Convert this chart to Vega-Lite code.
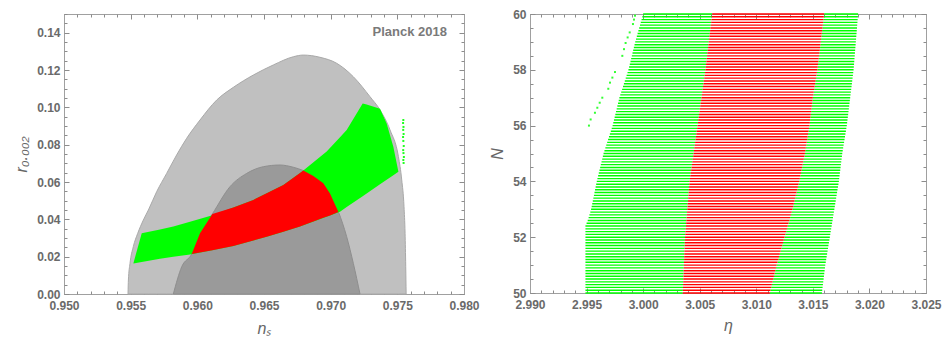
{
  "$schema": "https://vega.github.io/schema/vega-lite/v6.json",
  "background": "white",
  "autosize": {"type": "pad"},
  "padding": {"left": 13, "top": 8, "right": 0, "bottom": 0},
  "spacing": 66,
  "bounds": "flush",
  "config": {
    "view": {"stroke": null},
    "axis": {
      "labelFont": "Liberation Sans", "labelFontSize": 12, "labelFontWeight": "bold", "labelColor": "#6a6a6a",
      "titleFont": "Liberation Sans", "titleFontSize": 16, "titleFontStyle": "italic", "titleFontWeight": "normal", "titleColor": "#666666",
      "domainColor": "#a0a0a0", "tickColor": "#8c8c8c", "grid": false, "zindex": 1, "labelFlush": false, "labelOverlap": false
    }
  },
  "datasets": {
    "lines": [
      {"N":50.0,"gl":2.9949,"rl":3.0035,"rr":3.0112,"gr":3.0158},
      {"N":50.1,"gl":2.9949,"rl":3.00351,"rr":3.01126,"gr":3.01583},
      {"N":50.2,"gl":2.9949,"rl":3.00352,"rr":3.01132,"gr":3.01586},
      {"N":50.3,"gl":2.9949,"rl":3.00353,"rr":3.01138,"gr":3.01589},
      {"N":50.4,"gl":2.9949,"rl":3.00354,"rr":3.01144,"gr":3.01592},
      {"N":50.5,"gl":2.9949,"rl":3.00355,"rr":3.0115,"gr":3.01595},
      {"N":50.6,"gl":2.9949,"rl":3.00356,"rr":3.01156,"gr":3.01598},
      {"N":50.7,"gl":2.9949,"rl":3.00357,"rr":3.01162,"gr":3.01601},
      {"N":50.8,"gl":2.9949,"rl":3.00358,"rr":3.01168,"gr":3.01604},
      {"N":50.9,"gl":2.9949,"rl":3.00359,"rr":3.01174,"gr":3.01607},
      {"N":51.0,"gl":2.9949,"rl":3.0036,"rr":3.0118,"gr":3.0161},
      {"N":51.1,"gl":2.9949,"rl":3.00361,"rr":3.01187,"gr":3.01614},
      {"N":51.2,"gl":2.9949,"rl":3.00362,"rr":3.01194,"gr":3.01618},
      {"N":51.3,"gl":2.9949,"rl":3.00363,"rr":3.01201,"gr":3.01622},
      {"N":51.4,"gl":2.9949,"rl":3.00364,"rr":3.01208,"gr":3.01626},
      {"N":51.5,"gl":2.9949,"rl":3.00365,"rr":3.01215,"gr":3.0163},
      {"N":51.6,"gl":2.9949,"rl":3.00366,"rr":3.01222,"gr":3.01634},
      {"N":51.7,"gl":2.9949,"rl":3.00367,"rr":3.01229,"gr":3.01638},
      {"N":51.8,"gl":2.9949,"rl":3.00368,"rr":3.01236,"gr":3.01642},
      {"N":51.9,"gl":2.9949,"rl":3.00369,"rr":3.01243,"gr":3.01646},
      {"N":52.0,"gl":2.9949,"rl":3.0037,"rr":3.0125,"gr":3.0165},
      {"N":52.1,"gl":2.9949,"rl":3.00372,"rr":3.01257,"gr":3.01654},
      {"N":52.2,"gl":2.9949,"rl":3.00374,"rr":3.01264,"gr":3.01658},
      {"N":52.3,"gl":2.9949,"rl":3.00376,"rr":3.01271,"gr":3.01662},
      {"N":52.4,"gl":2.9949,"rl":3.00378,"rr":3.01278,"gr":3.01666},
      {"N":52.5,"gl":2.995,"rl":3.0038,"rr":3.01285,"gr":3.0167},
      {"N":52.6,"gl":2.9951,"rl":3.00382,"rr":3.01292,"gr":3.01674},
      {"N":52.7,"gl":2.99518,"rl":3.00384,"rr":3.01299,"gr":3.01678},
      {"N":52.8,"gl":2.99525,"rl":3.00386,"rr":3.01306,"gr":3.01682},
      {"N":52.9,"gl":2.99533,"rl":3.00388,"rr":3.01313,"gr":3.01686},
      {"N":53.0,"gl":2.9954,"rl":3.0039,"rr":3.0132,"gr":3.0169},
      {"N":53.1,"gl":2.99545,"rl":3.00392,"rr":3.01326,"gr":3.01694},
      {"N":53.2,"gl":2.9955,"rl":3.00394,"rr":3.01332,"gr":3.01698},
      {"N":53.3,"gl":2.99555,"rl":3.00396,"rr":3.01338,"gr":3.01702},
      {"N":53.4,"gl":2.9956,"rl":3.00398,"rr":3.01344,"gr":3.01706},
      {"N":53.5,"gl":2.99565,"rl":3.004,"rr":3.0135,"gr":3.0171},
      {"N":53.6,"gl":2.9957,"rl":3.00402,"rr":3.01356,"gr":3.01714},
      {"N":53.7,"gl":2.99575,"rl":3.00404,"rr":3.01362,"gr":3.01718},
      {"N":53.8,"gl":2.9958,"rl":3.00406,"rr":3.01368,"gr":3.01722},
      {"N":53.9,"gl":2.99585,"rl":3.00408,"rr":3.01374,"gr":3.01726},
      {"N":54.0,"gl":2.9959,"rl":3.0041,"rr":3.0138,"gr":3.0173},
      {"N":54.1,"gl":2.99596,"rl":3.00414,"rr":3.01385,"gr":3.01733},
      {"N":54.2,"gl":2.99602,"rl":3.00417,"rr":3.0139,"gr":3.01736},
      {"N":54.3,"gl":2.99608,"rl":3.00421,"rr":3.01395,"gr":3.01739},
      {"N":54.4,"gl":2.99614,"rl":3.00424,"rr":3.014,"gr":3.01742},
      {"N":54.5,"gl":2.9962,"rl":3.00428,"rr":3.01405,"gr":3.01745},
      {"N":54.6,"gl":2.99626,"rl":3.00431,"rr":3.0141,"gr":3.01748},
      {"N":54.7,"gl":2.99632,"rl":3.00435,"rr":3.01415,"gr":3.01751},
      {"N":54.8,"gl":2.99638,"rl":3.00438,"rr":3.0142,"gr":3.01754},
      {"N":54.9,"gl":2.99644,"rl":3.00442,"rr":3.01425,"gr":3.01757},
      {"N":55.0,"gl":2.9965,"rl":3.00445,"rr":3.0143,"gr":3.0176},
      {"N":55.1,"gl":2.99658,"rl":3.00449,"rr":3.01434,"gr":3.01764},
      {"N":55.2,"gl":2.99666,"rl":3.00452,"rr":3.01438,"gr":3.01768},
      {"N":55.3,"gl":2.99674,"rl":3.00456,"rr":3.01442,"gr":3.01772},
      {"N":55.4,"gl":2.99682,"rl":3.00459,"rr":3.01446,"gr":3.01776},
      {"N":55.5,"gl":2.9969,"rl":3.00463,"rr":3.0145,"gr":3.0178},
      {"N":55.6,"gl":2.99698,"rl":3.00466,"rr":3.01454,"gr":3.01784},
      {"N":55.7,"gl":2.99706,"rl":3.0047,"rr":3.01458,"gr":3.01788},
      {"N":55.8,"gl":2.99714,"rl":3.00473,"rr":3.01462,"gr":3.01792},
      {"N":55.9,"gl":2.99722,"rl":3.00477,"rr":3.01466,"gr":3.01796},
      {"N":56.0,"gl":2.9973,"rl":3.0048,"rr":3.0147,"gr":3.018},
      {"N":56.1,"gl":2.99736,"rl":3.00484,"rr":3.01473,"gr":3.01803},
      {"N":56.2,"gl":2.99742,"rl":3.00487,"rr":3.01476,"gr":3.01806},
      {"N":56.3,"gl":2.99748,"rl":3.00491,"rr":3.01479,"gr":3.01809},
      {"N":56.4,"gl":2.99754,"rl":3.00494,"rr":3.01482,"gr":3.01812},
      {"N":56.5,"gl":2.9976,"rl":3.00498,"rr":3.01485,"gr":3.01815},
      {"N":56.6,"gl":2.99766,"rl":3.00501,"rr":3.01488,"gr":3.01818},
      {"N":56.7,"gl":2.99772,"rl":3.00505,"rr":3.01491,"gr":3.01821},
      {"N":56.8,"gl":2.99778,"rl":3.00508,"rr":3.01494,"gr":3.01824},
      {"N":56.9,"gl":2.99784,"rl":3.00512,"rr":3.01497,"gr":3.01827},
      {"N":57.0,"gl":2.9979,"rl":3.00515,"rr":3.015,"gr":3.0183},
      {"N":57.1,"gl":2.99798,"rl":3.00519,"rr":3.01504,"gr":3.01833},
      {"N":57.2,"gl":2.99806,"rl":3.00522,"rr":3.01508,"gr":3.01836},
      {"N":57.3,"gl":2.99814,"rl":3.00526,"rr":3.01512,"gr":3.01839},
      {"N":57.4,"gl":2.99822,"rl":3.00529,"rr":3.01516,"gr":3.01842},
      {"N":57.5,"gl":2.9983,"rl":3.00533,"rr":3.0152,"gr":3.01845},
      {"N":57.6,"gl":2.99838,"rl":3.00536,"rr":3.01524,"gr":3.01848},
      {"N":57.7,"gl":2.99846,"rl":3.0054,"rr":3.01528,"gr":3.01851},
      {"N":57.8,"gl":2.99854,"rl":3.00543,"rr":3.01532,"gr":3.01854},
      {"N":57.9,"gl":2.99862,"rl":3.00547,"rr":3.01536,"gr":3.01857},
      {"N":58.0,"gl":2.9987,"rl":3.0055,"rr":3.0154,"gr":3.0186},
      {"N":58.1,"gl":2.99876,"rl":3.00553,"rr":3.01543,"gr":3.01862},
      {"N":58.2,"gl":2.99882,"rl":3.00556,"rr":3.01546,"gr":3.01864},
      {"N":58.3,"gl":2.99888,"rl":3.00559,"rr":3.01549,"gr":3.01866},
      {"N":58.4,"gl":2.99894,"rl":3.00562,"rr":3.01552,"gr":3.01868},
      {"N":58.5,"gl":2.999,"rl":3.00565,"rr":3.01555,"gr":3.0187},
      {"N":58.6,"gl":2.99906,"rl":3.00568,"rr":3.01558,"gr":3.01872},
      {"N":58.7,"gl":2.99912,"rl":3.00571,"rr":3.01561,"gr":3.01874},
      {"N":58.8,"gl":2.99918,"rl":3.00574,"rr":3.01564,"gr":3.01876},
      {"N":58.9,"gl":2.99924,"rl":3.00577,"rr":3.01567,"gr":3.01878},
      {"N":59.0,"gl":2.9993,"rl":3.0058,"rr":3.0157,"gr":3.0188},
      {"N":59.1,"gl":2.99937,"rl":3.00583,"rr":3.01573,"gr":3.01882},
      {"N":59.2,"gl":2.99944,"rl":3.00586,"rr":3.01576,"gr":3.01884},
      {"N":59.3,"gl":2.99951,"rl":3.00589,"rr":3.01579,"gr":3.01886},
      {"N":59.4,"gl":2.99958,"rl":3.00592,"rr":3.01582,"gr":3.01888},
      {"N":59.5,"gl":2.99965,"rl":3.00595,"rr":3.01585,"gr":3.0189},
      {"N":59.6,"gl":2.99972,"rl":3.00598,"rr":3.01588,"gr":3.01892},
      {"N":59.7,"gl":2.99979,"rl":3.00601,"rr":3.01591,"gr":3.01894},
      {"N":59.8,"gl":2.99986,"rl":3.00604,"rr":3.01594,"gr":3.01896},
      {"N":59.9,"gl":2.99993,"rl":3.00607,"rr":3.01597,"gr":3.01898},
      {"N":60.0,"gl":3.0,"rl":3.0061,"rr":3.016,"gr":3.019}
    ],
    "dotsR": [
      {"eta":2.99928,"N":59.94},{"eta":2.99919,"N":59.8},{"eta":2.9991,"N":59.64},
      {"eta":2.99881,"N":59.34},{"eta":2.99863,"N":59.16},{"eta":2.99845,"N":58.96},
      {"eta":2.99831,"N":58.74},{"eta":2.99816,"N":58.5},{"eta":2.99751,"N":57.92},
      {"eta":2.99728,"N":57.72},{"eta":2.99707,"N":57.54},{"eta":2.99692,"N":57.32},
      {"eta":2.99639,"N":57.0},{"eta":2.99616,"N":56.82},{"eta":2.99595,"N":56.64},
      {"eta":2.99574,"N":56.46},{"eta":2.99536,"N":56.22},{"eta":2.99521,"N":56.0}
    ]
  },
  "hconcat": [
    {
      "width": 400,
      "height": 280,
      "resolve": {"axis": {"x": "independent", "y": "independent"}},
      "layer": [
        {
          "data": {"values": [
            {"ns":0.9548,"r":0},{"ns":0.95483,"r":0.0075},{"ns":0.95495,"r":0.0164},{"ns":0.9552,"r":0.0254},
            {"ns":0.95553,"r":0.0325},{"ns":0.95595,"r":0.0396},{"ns":0.95633,"r":0.045},{"ns":0.95695,"r":0.0548},
            {"ns":0.9577,"r":0.0646},{"ns":0.95845,"r":0.0745},{"ns":0.9592,"r":0.0834},{"ns":0.9602,"r":0.0932},
            {"ns":0.96145,"r":0.1039},{"ns":0.9627,"r":0.1107},{"ns":0.9642,"r":0.1173},{"ns":0.9657,"r":0.1227},
            {"ns":0.9672,"r":0.1271},{"ns":0.96795,"r":0.128},{"ns":0.9692,"r":0.1268},{"ns":0.97045,"r":0.1236},
            {"ns":0.9717,"r":0.1164},{"ns":0.97295,"r":0.1057},{"ns":0.9737,"r":0.0986},{"ns":0.97445,"r":0.0879},
            {"ns":0.97508,"r":0.0736},{"ns":0.97533,"r":0.0611},{"ns":0.9755,"r":0.0468},{"ns":0.97558,"r":0.0325},
            {"ns":0.97563,"r":0.0146},{"ns":0.97566,"r":0}
          ]},
          "mark": {"type": "area", "fill": "#c0c0c0", "stroke": "#a9a9a9", "strokeWidth": 1, "interpolate": "monotone"},
          "encoding": {
            "x": {"field": "ns", "type": "quantitative", "scale": {"domain": [0.95, 0.98], "nice": false, "zero": false},
              "axis": {"orient": "bottom", "values": [0.95,0.955,0.96,0.965,0.97,0.975,0.98], "format": ".3f", "tickSize": -5, "labelPadding": 11,
                "title": "nₛ", "titleY": 39, "titleBaseline": "alphabetic"}},
            "y": {"field": "r", "type": "quantitative", "scale": {"domain": [0, 0.15], "nice": false, "zero": false},
              "axis": {"orient": "left", "values": [0,0.02,0.04,0.06,0.08,0.1,0.12,0.14], "format": ".2f", "tickSize": -5, "labelPadding": 9,
                "title": "r₀.₀₀₂", "titleX": -43, "titleBaseline": "middle"}},
            "y2": {"datum": 0}
          }
        },
        {
          "data": {"values": [
            {"ns":0.9582,"r":0},{"ns":0.95883,"r":0.0146},{"ns":0.95958,"r":0.0214},{"ns":0.9602,"r":0.0325},
            {"ns":0.96113,"r":0.0429},{"ns":0.96245,"r":0.0575},{"ns":0.9637,"r":0.0646},{"ns":0.96495,"r":0.0682},
            {"ns":0.9662,"r":0.0691},{"ns":0.9672,"r":0.0679},{"ns":0.96795,"r":0.0661},{"ns":0.9687,"r":0.0632},
            {"ns":0.96945,"r":0.0593},{"ns":0.96995,"r":0.0539},{"ns":0.97058,"r":0.0441},{"ns":0.9712,"r":0.0307},
            {"ns":0.9717,"r":0.0164},{"ns":0.9722,"r":0}
          ]},
          "mark": {"type": "area", "fill": "#9a9a9a", "stroke": "#8e8e8e", "strokeWidth": 1, "interpolate": "monotone"},
          "encoding": {
            "x": {"field": "ns", "type": "quantitative",
              "axis": {"orient": "bottom", "values": [0.95,0.951,0.952,0.953,0.954,0.955,0.956,0.957,0.958,0.959,0.96,0.961,0.962,0.963,0.964,0.965,0.966,0.967,0.968,0.969,0.97,0.971,0.972,0.973,0.974,0.975,0.976,0.977,0.978,0.979,0.98],
                "tickSize": -3, "labels": false, "domain": false, "title": null}},
            "y": {"field": "r", "type": "quantitative",
              "axis": {"orient": "left", "values": [0,0.005,0.01,0.015,0.02,0.025,0.03,0.035,0.04,0.045,0.05,0.055,0.06,0.065,0.07,0.075,0.08,0.085,0.09,0.095,0.1,0.105,0.11,0.115,0.12,0.125,0.13,0.135,0.14,0.145,0.15],
                "tickSize": -3, "labels": false, "domain": false, "title": null}},
            "y2": {"datum": 0}
          }
        },
        {
          "data": {"values": [
            {"ns":0.9552,"hi":0.0164,"lo":0.0164},{"ns":0.95583,"hi":0.0325,"lo":0.0172},{"ns":0.9572,"hi":0.0346,"lo":0.0189},
            {"ns":0.9582,"hi":0.0361,"lo":0.0199},{"ns":0.95945,"hi":0.0387,"lo":0.0212},{"ns":0.9612,"hi":0.0423,"lo":0.0236},
            {"ns":0.9627,"hi":0.0464,"lo":0.0257},{"ns":0.9642,"hi":0.0504,"lo":0.0287},{"ns":0.9652,"hi":0.054,"lo":0.0307},
            {"ns":0.96645,"hi":0.0584,"lo":0.0334},{"ns":0.9677,"hi":0.0648,"lo":0.0361},{"ns":0.96795,"hi":0.0661,"lo":0.0368},
            {"ns":0.9697,"hi":0.0763,"lo":0.0414},{"ns":0.9707,"hi":0.084,"lo":0.0441},{"ns":0.9712,"hi":0.0879,"lo":0.0466},
            {"ns":0.9724,"hi":0.1021,"lo":0.0524},{"ns":0.9727,"hi":0.1015,"lo":0.0539},{"ns":0.9737,"hi":0.0993,"lo":0.0588},
            {"ns":0.9742,"hi":0.0914,"lo":0.0612},{"ns":0.9747,"hi":0.0789,"lo":0.0636},{"ns":0.97508,"hi":0.0655,"lo":0.0655}
          ]},
          "mark": {"type": "area", "fill": "#00ff00"},
          "encoding": {
            "x": {"field": "ns", "type": "quantitative",
              "axis": {"orient": "top", "values": [0.95,0.955,0.96,0.965,0.97,0.975,0.98], "tickSize": -5, "labels": false, "title": null}},
            "y": {"field": "hi", "type": "quantitative",
              "axis": {"orient": "right", "values": [0,0.02,0.04,0.06,0.08,0.1,0.12,0.14], "tickSize": -5, "labels": false, "title": null}},
            "y2": {"field": "lo"}
          }
        },
        {
          "data": {"values": [
            {"ns":0.95958,"hi":0.0214,"lo":0.0214},{"ns":0.9602,"hi":0.0325,"lo":0.0222},{"ns":0.96113,"hi":0.0429,"lo":0.0235},
            {"ns":0.9627,"hi":0.0464,"lo":0.0257},{"ns":0.9642,"hi":0.0504,"lo":0.0287},{"ns":0.9652,"hi":0.054,"lo":0.0307},
            {"ns":0.96645,"hi":0.0584,"lo":0.0334},{"ns":0.9677,"hi":0.0648,"lo":0.0361},{"ns":0.96795,"hi":0.0661,"lo":0.0368},
            {"ns":0.9687,"hi":0.0632,"lo":0.0388},{"ns":0.96945,"hi":0.0593,"lo":0.0408},{"ns":0.96995,"hi":0.0539,"lo":0.0421},
            {"ns":0.97058,"hi":0.0439,"lo":0.0439}
          ]},
          "mark": {"type": "area", "fill": "#ff0000"},
          "encoding": {
            "x": {"field": "ns", "type": "quantitative",
              "axis": {"orient": "top", "values": [0.95,0.951,0.952,0.953,0.954,0.955,0.956,0.957,0.958,0.959,0.96,0.961,0.962,0.963,0.964,0.965,0.966,0.967,0.968,0.969,0.97,0.971,0.972,0.973,0.974,0.975,0.976,0.977,0.978,0.979,0.98],
                "tickSize": -3, "labels": false, "domain": false, "title": null}},
            "y": {"field": "hi", "type": "quantitative",
              "axis": {"orient": "right", "values": [0,0.005,0.01,0.015,0.02,0.025,0.03,0.035,0.04,0.045,0.05,0.055,0.06,0.065,0.07,0.075,0.08,0.085,0.09,0.095,0.1,0.105,0.11,0.115,0.12,0.125,0.13,0.135,0.14,0.145,0.15],
                "tickSize": -3, "labels": false, "domain": false, "title": null}},
            "y2": {"field": "lo"}
          }
        },
        {
          "data": {"values": [
            {"ns":0.97545,"r":0.0932},{"ns":0.97543,"r":0.0916},{"ns":0.97546,"r":0.0895},{"ns":0.97544,"r":0.0879},
            {"ns":0.97547,"r":0.0857},{"ns":0.97543,"r":0.0841},{"ns":0.97545,"r":0.082},{"ns":0.97548,"r":0.0793},
            {"ns":0.97544,"r":0.0771},{"ns":0.97546,"r":0.0755},{"ns":0.97549,"r":0.0734},{"ns":0.97545,"r":0.0718},
            {"ns":0.97547,"r":0.0702}
          ]},
          "mark": {"type": "square", "size": 4, "color": "#22ff22", "opacity": 1},
          "encoding": {
            "x": {"field": "ns", "type": "quantitative", "axis": null},
            "y": {"field": "r", "type": "quantitative", "axis": null}
          }
        },
        {
          "data": {"values": [{"label": "Planck 2018", "ns": 0.97872, "r": 0.1401}]},
          "mark": {"type": "text", "align": "right", "baseline": "middle", "font": "Liberation Sans", "fontWeight": "bold", "fontSize": 13, "color": "#7a7a7a"},
          "encoding": {
            "x": {"field": "ns", "type": "quantitative", "axis": null},
            "y": {"field": "r", "type": "quantitative", "axis": null},
            "text": {"field": "label"}
          }
        }
      ]
    },
    {
      "width": 396,
      "height": 279,
      "resolve": {"axis": {"x": "independent", "y": "independent"}},
      "layer": [
        {
          "data": {"name": "lines"},
          "mark": {"type": "rule", "color": "#00ff00", "strokeWidth": 1.4},
          "encoding": {
            "x": {"field": "gl", "type": "quantitative", "scale": {"domain": [2.99, 3.025], "nice": false, "zero": false},
              "axis": {"orient": "bottom", "values": [2.99,2.995,3.0,3.005,3.01,3.015,3.02,3.025], "format": ".3f", "tickSize": -5, "labelPadding": 11,
                "title": "η", "titleY": 37, "titleBaseline": "alphabetic"}},
            "x2": {"field": "rl"},
            "y": {"field": "N", "type": "quantitative", "scale": {"domain": [50, 60], "nice": false, "zero": false},
              "axis": {"orient": "left", "values": [50,52,54,56,58,60], "format": "d", "tickSize": -5, "labelPadding": 9,
                "title": "N", "titleX": -33, "titleBaseline": "middle"}}
          }
        },
        {
          "data": {"name": "lines"},
          "mark": {"type": "rule", "color": "#00ff00", "strokeWidth": 1.4},
          "encoding": {
            "x": {"field": "rr", "type": "quantitative",
              "axis": {"orient": "bottom", "values": [2.99,2.991,2.992,2.993,2.994,2.995,2.996,2.997,2.998,2.999,3.0,3.001,3.002,3.003,3.004,3.005,3.006,3.007,3.008,3.009,3.01,3.011,3.012,3.013,3.014,3.015,3.016,3.017,3.018,3.019,3.02,3.021,3.022,3.023,3.024,3.025],
                "tickSize": -3, "labels": false, "domain": false, "title": null}},
            "x2": {"field": "gr"},
            "y": {"field": "N", "type": "quantitative",
              "axis": {"orient": "left", "values": [50,50.5,51,51.5,52,52.5,53,53.5,54,54.5,55,55.5,56,56.5,57,57.5,58,58.5,59,59.5,60],
                "tickSize": -3, "labels": false, "domain": false, "title": null}}
          }
        },
        {
          "data": {"name": "lines"},
          "mark": {"type": "rule", "color": "#ff0000", "strokeWidth": 1.4},
          "encoding": {
            "x": {"field": "rl", "type": "quantitative",
              "axis": {"orient": "top", "values": [2.99,2.995,3.0,3.005,3.01,3.015,3.02,3.025], "tickSize": -5, "labels": false, "title": null}},
            "x2": {"field": "rr"},
            "y": {"field": "N", "type": "quantitative",
              "axis": {"orient": "right", "values": [50,52,54,56,58,60], "tickSize": -5, "labels": false, "title": null}}
          }
        },
        {
          "data": {"name": "dotsR"},
          "mark": {"type": "square", "size": 4, "color": "#33ff33", "opacity": 1},
          "encoding": {
            "x": {"field": "eta", "type": "quantitative",
              "axis": {"orient": "top", "values": [2.99,2.991,2.992,2.993,2.994,2.995,2.996,2.997,2.998,2.999,3.0,3.001,3.002,3.003,3.004,3.005,3.006,3.007,3.008,3.009,3.01,3.011,3.012,3.013,3.014,3.015,3.016,3.017,3.018,3.019,3.02,3.021,3.022,3.023,3.024,3.025],
                "tickSize": -3, "labels": false, "domain": false, "title": null}},
            "y": {"field": "N", "type": "quantitative",
              "axis": {"orient": "right", "values": [50,50.5,51,51.5,52,52.5,53,53.5,54,54.5,55,55.5,56,56.5,57,57.5,58,58.5,59,59.5,60],
                "tickSize": -3, "labels": false, "domain": false, "title": null}}
          }
        }
      ]
    }
  ]
}
